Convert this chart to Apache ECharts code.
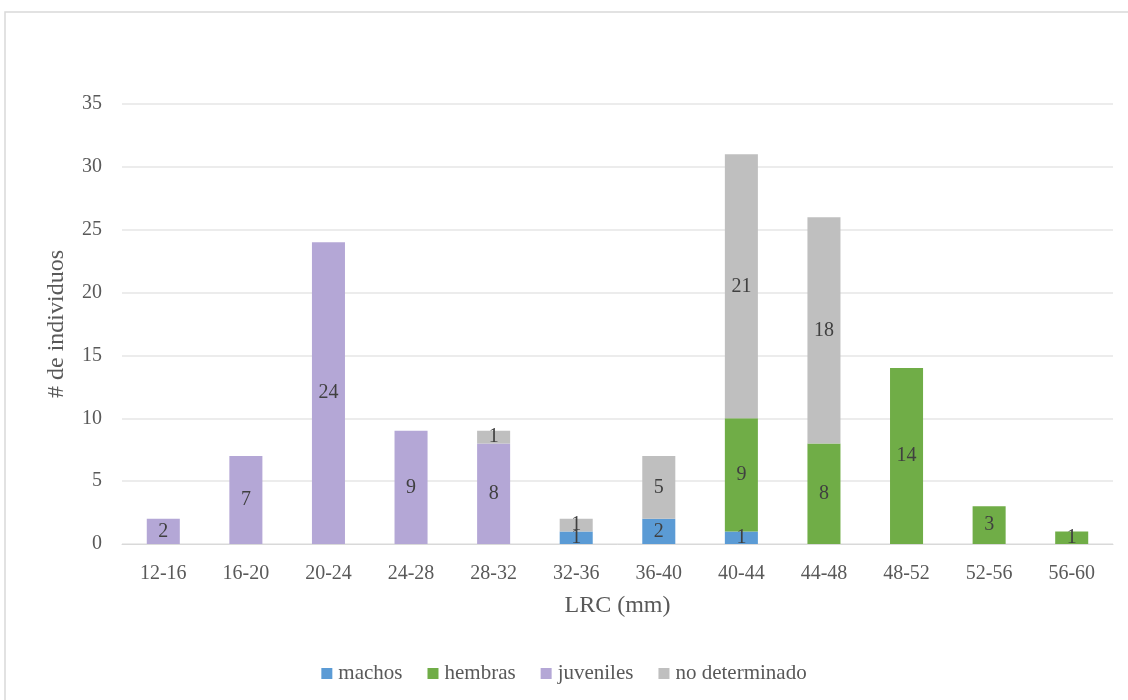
<!DOCTYPE html>
<html>
<head>
<meta charset="utf-8">
<script src="https://cdn.jsdelivr.net/npm/echarts@6/dist/echarts.min.js"></script>
<style>
  html, body { margin: 0; padding: 0; background: #fff; }
  #chart1 { width: 1128px; height: 700px; }
</style>
</head>
<body>
<div id="chart1"></div>
<script>
// datos por clase de talla
const categorias = ['12-16', '16-20', '20-24', '24-28', '28-32', '32-36', '36-40', '40-44', '44-48', '48-52', '52-56', '56-60'];
const machos = [null, null, null, null, null, 1, 2, 1, null, null, null, null];
const hembras = [null, null, null, null, null, null, null, 9, 8, 14, 3, 1];
const juveniles = [2, 7, 24, 9, 8, null, null, null, null, null, null, null];
const noDeterminado = [null, null, null, null, 1, 1, 5, 21, 18, null, null, null];

const fuente = '"Liberation Serif", "Times New Roman", serif';

const serie = (nombre, datos, color) => ({
    name: nombre,
    type: 'bar',
    stack: 'total',
    barWidth: '40%',
    data: datos,
    itemStyle: { color: color },
    label: {
        show: true,
        position: 'inside',
        color: '#404040',
        fontFamily: fuente,
        fontSize: 20
    }
});

const initCharts = () => {
    const chart1 = echarts.init(document.getElementById('chart1'));
    chart1.setOption({
        animation: false,
        textStyle: { fontFamily: fuente },
        graphic: [{
            type: 'rect',
            shape: { x: 5, y: 12, width: 1140, height: 700 },
            style: { fill: 'none', stroke: '#d9d9d9', lineWidth: 1.5 },
            silent: true
        }],
        grid: { left: 122, right: 15, top: 104, bottom: 156 },
        legend: {
            bottom: 11,
            left: 'center',
            itemWidth: 11,
            itemHeight: 11,
            itemGap: 25,
            icon: 'rect',
            textStyle: { fontFamily: fuente, fontSize: 21, color: '#595959', padding: [0, 0, 0, 1] }
        },
        xAxis: {
            type: 'category',
            data: categorias,
            name: 'LRC (mm)',
            nameLocation: 'middle',
            nameGap: 50,
            nameTextStyle: { fontFamily: fuente, fontSize: 24, color: '#595959' },
            axisLine: { lineStyle: { color: '#d9d9d9' } },
            axisTick: { show: false },
            axisLabel: { fontFamily: fuente, fontSize: 20, color: '#595959', margin: 20 }
        },
        yAxis: {
            type: 'value',
            min: 0,
            max: 35,
            interval: 5,
            name: '# de individuos',
            nameLocation: 'middle',
            nameGap: 53,
            nameTextStyle: { fontFamily: fuente, fontSize: 24, color: '#595959' },
            axisLine: { show: false },
            axisTick: { show: false },
            splitLine: { lineStyle: { color: '#e6e6e6', width: 1.5 } },
            axisLabel: { fontFamily: fuente, fontSize: 20, color: '#595959', margin: 20 }
        },
        series: [
            serie('machos', machos, '#5b9bd5'),
            serie('hembras', hembras, '#70ad47'),
            serie('juveniles', juveniles, '#b4a7d6'),
            serie('no determinado', noDeterminado, '#bfbfbf')
        ]
    });
};

window.addEventListener('load', () => {
    initCharts();
});
</script>
</body>
</html>
